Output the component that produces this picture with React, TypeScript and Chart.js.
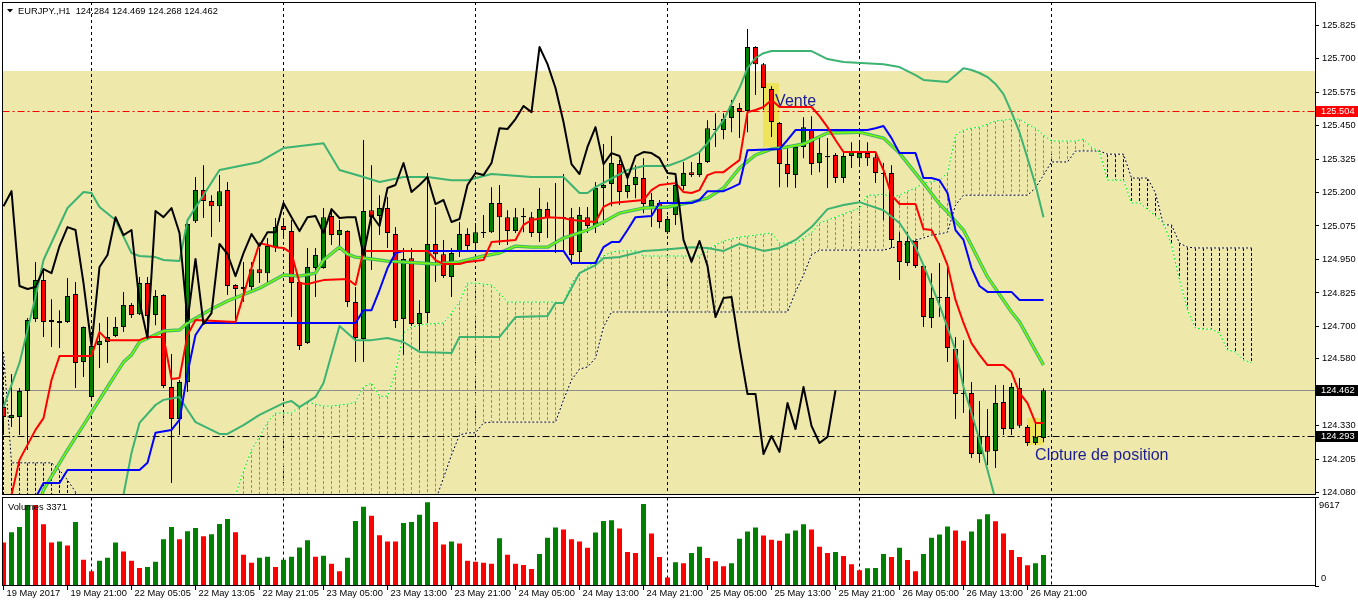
import React, { useEffect, useRef } from 'react';
import { Chart, registerables } from 'chart.js';

Chart.register(...registerables);

// ---------------- data ----------------
const SYMBOL = 'EURJPY.,H1';
const FIRST_BAR = -11; // bar index of the first candle (0 = 22 May 00:00)

const OPEN = [
  124.399, 124.358, 124.362, 124.459, 124.728, 124.873, 124.724, 124.713, 124.717, 124.821, 124.567,
  124.437, 124.631, 124.642, 124.664, 124.698, 124.780, 124.746, 124.862, 124.743, 124.817,
  124.474, 124.355, 124.493, 125.093, 125.209, 125.168, 125.149, 125.209, 124.855, 124.840,
  124.847, 124.914, 124.899, 124.996, 125.075, 125.056, 124.866, 124.638, 124.918, 124.918,
  125.112, 125.041, 125.056, 124.791, 124.653, 125.134, 125.112, 125.142, 125.045, 124.728,
  124.955, 124.709, 124.750, 125.008, 124.970, 124.885, 124.978, 125.045, 125.011, 125.049,
  125.052, 125.161, 125.108, 125.056, 125.108, 125.108, 125.049, 125.138, 125.105, 125.105,
  125.108, 124.978, 125.108, 125.071, 125.217, 125.232, 125.306, 125.202, 125.228, 125.254,
  125.149, 125.161, 125.052, 125.116, 125.224, 125.276, 125.265, 125.314, 125.433, 125.433,
  125.478, 125.515, 125.504, 125.743, 125.679, 125.586, 125.459, 125.306, 125.265, 125.370,
  125.433, 125.310, 125.332, 125.340, 125.254, 125.336, 125.328, 125.347, 125.332, 125.273,
  125.273, 125.019, 124.937, 125.019, 124.926, 124.732, 124.806, 124.810, 124.616, 124.452,
  124.452, 124.224, 124.291, 124.235, 124.418, 124.317, 124.470, 124.325, 124.265, 124.284,
];
const HIGH = [
  124.433, 124.523, 124.470, 124.732, 124.941, 124.918, 124.802, 124.761, 124.881, 124.866, 124.700,
  124.661, 124.713, 124.735, 124.735, 124.829, 124.788, 124.885, 124.885, 124.836, 124.820,
  124.597, 124.500, 125.086, 125.258, 125.302, 125.190, 125.265, 125.239, 124.858, 124.941,
  124.941, 124.993, 125.030, 125.105, 125.097, 125.097, 124.869, 124.993, 124.993, 125.142,
  125.134, 125.097, 125.059, 124.847, 125.396, 125.302, 125.190, 125.183, 125.071, 124.993,
  124.993, 124.799, 125.273, 125.146, 125.023, 124.993, 125.090, 125.067, 125.086, 125.116,
  125.220, 125.228, 125.134, 125.142, 125.142, 125.127, 125.217, 125.164, 125.235, 125.269,
  125.142, 125.146, 125.146, 125.239, 125.381, 125.411, 125.321, 125.273, 125.302, 125.328,
  125.198, 125.172, 125.112, 125.258, 125.314, 125.314, 125.355, 125.470, 125.496, 125.496,
  125.545, 125.534, 125.810, 125.746, 125.683, 125.597, 125.463, 125.377, 125.377, 125.481,
  125.485, 125.403, 125.403, 125.347, 125.351, 125.388, 125.388, 125.388, 125.347, 125.310,
  125.302, 125.052, 125.052, 125.022, 124.929, 124.899, 124.937, 124.937, 124.661, 124.649,
  124.493, 124.422, 124.392, 124.482, 124.482, 124.489, 124.508, 124.332, 124.340, 124.469,
];
const LOW = [
  124.306, 124.325, 124.295, 124.239, 124.717, 124.661, 124.623, 124.620, 124.713, 124.470, 124.511,
  124.426, 124.545, 124.564, 124.661, 124.679, 124.732, 124.743, 124.668, 124.705, 124.470,
  124.116, 124.295, 124.455, 125.086, 125.105, 125.034, 125.090, 124.817, 124.724, 124.791,
  124.836, 124.862, 124.862, 124.978, 125.034, 124.735, 124.612, 124.635, 124.810, 124.915,
  125.004, 124.985, 124.773, 124.567, 124.567, 124.911, 125.041, 124.993, 124.694, 124.594,
  124.702, 124.612, 124.713, 124.866, 124.881, 124.810, 124.959, 124.978, 124.993, 125.030,
  125.049, 125.004, 125.004, 125.049, 125.052, 125.034, 125.015, 125.030, 124.974, 124.985,
  124.929, 124.941, 125.049, 125.049, 125.079, 125.149, 125.153, 125.179, 125.179, 125.123,
  125.071, 125.067, 125.045, 125.079, 125.209, 125.258, 125.258, 125.310, 125.370, 125.399,
  125.425, 125.403, 125.425, 125.564, 125.508, 125.407, 125.220, 125.220, 125.217, 125.328,
  125.265, 125.276, 125.217, 125.235, 125.235, 125.291, 125.299, 125.299, 125.235, 125.097,
  124.993, 124.873, 124.926, 124.918, 124.698, 124.694, 124.735, 124.567, 124.355, 124.377,
  124.209, 124.191, 124.183, 124.172, 124.295, 124.295, 124.321, 124.254, 124.258, 124.268,
];
const CLOSE = [
  124.362, 124.370, 124.459, 124.724, 124.873, 124.717, 124.717, 124.720, 124.814, 124.564, 124.698,
  124.627, 124.646, 124.661, 124.698, 124.780, 124.743, 124.862, 124.739, 124.814, 124.478,
  124.355, 124.493, 125.082, 125.209, 125.168, 125.149, 125.205, 124.851, 124.840, 124.847,
  124.914, 124.899, 125.000, 125.071, 125.060, 124.862, 124.627, 124.922, 124.967, 125.108,
  125.041, 125.060, 124.791, 124.657, 125.131, 125.108, 125.142, 125.049, 124.720, 124.952,
  124.709, 124.750, 125.008, 124.970, 124.888, 124.974, 125.045, 125.000, 125.052, 125.052,
  125.161, 125.108, 125.056, 125.108, 125.112, 125.049, 125.138, 125.105, 125.108, 125.108,
  124.967, 125.116, 125.075, 125.217, 125.228, 125.310, 125.202, 125.228, 125.258, 125.157,
  125.172, 125.090, 125.101, 125.228, 125.273, 125.265, 125.310, 125.440, 125.437, 125.474,
  125.523, 125.500, 125.743, 125.679, 125.590, 125.463, 125.306, 125.269, 125.370, 125.444,
  125.306, 125.347, 125.336, 125.254, 125.336, 125.351, 125.347, 125.328, 125.273, 125.269,
  125.023, 124.941, 125.019, 124.926, 124.735, 124.806, 124.810, 124.620, 124.448, 124.448,
  124.224, 124.291, 124.232, 124.414, 124.317, 124.474, 124.329, 124.265, 124.288, 124.462,
];
const VOLUME = [
  4736, 5846, 6401, 8806, 8790, 6697, 4736, 4847, 4403, 6956, 2849,
  1591, 2738, 3071, 4736, 3737, 2738, 1961, 2072, 2627, 5069,
  6401, 5069, 5957, 6290, 5402, 5624, 6734, 7289, 5846, 3404,
  2516, 3071, 3182, 2072, 2849, 3182, 4181, 4958, 3182, 3293,
  2405, 1591, 3071, 7067, 8621, 7622, 5513, 4847, 4840, 6845,
  6956, 7733, 9102, 6956, 4514, 4847, 4625, 2738, 2627, 2516,
  2405, 5180, 3404, 2405, 2294, 1850, 3478, 5254, 6364, 6142,
  5069, 4847, 4144, 5809, 7067, 7141, 6253, 3700, 3589, 8917,
  5698, 3145, 925, 2590, 2479, 3589, 4255, 3034, 2701, 2146,
  2479, 5143, 5920, 6364, 5476, 5032, 4921, 5698, 6031, 6697,
  6142, 4255, 3589, 3700, 3256, 2368, 1702, 1924, 1961, 3478,
  3145, 4144, 2812, 1591, 3478, 5254, 5587, 6475, 6031, 4921,
  5920, 7252, 7807, 7030, 5698, 3922, 3145, 2257, 2479, 3371,
];

// Ichimoku
const CHIKOU_SHIFT = 26; // lagging span = close plotted 26 bars back
const TENKAN: [number, number][] = [
  [-10, 124.071], [-9, 124.202], [-7, 124.314], [-6, 124.358], [-5, 124.5], [-4, 124.59], [0, 124.59],
  [1, 124.679], [2, 124.649], [6, 124.649], [7, 124.661], [9, 124.661], [10, 124.504], [11, 124.508],
  [12, 124.668], [13, 124.724], [18, 124.717], [19, 124.817], [20, 124.918], [21, 125.011], [22, 125.004],
  [23, 124.996], [24, 124.993], [25, 124.974], [26, 124.862], [27, 124.858], [28, 124.866], [29, 124.873],
  [32, 124.877], [33, 124.855], [34, 124.982], [42, 124.982], [43, 124.948], [44, 124.933], [46, 124.933],
  [47, 124.941], [49, 124.948], [50, 125.015], [53, 125.023], [54, 125.079], [55, 125.097], [57, 125.108],
  [59, 125.105], [60, 125.097], [63, 125.09], [64, 125.146], [65, 125.161], [69, 125.172], [70, 125.209],
  [71, 125.228], [73, 125.235], [74, 125.202], [75, 125.198], [76, 125.209], [77, 125.265], [78, 125.276],
  [79, 125.276], [80, 125.299], [81, 125.321], [82, 125.5], [83, 125.508], [84, 125.519], [85, 125.545],
  [86, 125.519], [90, 125.519], [91, 125.485], [92, 125.444], [93, 125.396], [94, 125.351], [98, 125.351],
  [99, 125.284], [100, 125.19], [101, 125.157], [103, 125.157], [104, 125.064], [105, 125.06], [106, 125.004],
  [107, 124.929], [108, 124.799], [109, 124.713], [110, 124.638], [111, 124.594], [112, 124.556],
  [114, 124.556], [115, 124.53], [116, 124.452], [117, 124.414], [118, 124.34], [119, 124.34],
];
const KIJUN: [number, number][] = [
  [-7, 124.06], [-6, 124.116], [-4, 124.116], [-3, 124.164], [6, 124.164], [7, 124.191], [8, 124.303],
  [10, 124.314], [11, 124.351], [12, 124.526], [13, 124.668], [14, 124.713], [33, 124.713], [34, 124.761],
  [35, 124.761], [36, 124.836], [37, 124.918], [38, 124.974], [39, 124.982], [59, 124.982], [60, 124.937],
  [63, 124.937], [64, 124.996], [65, 125.015], [66, 125.015], [67, 125.06], [68, 125.108], [70, 125.112],
  [71, 125.161], [75, 125.161], [76, 125.172], [77, 125.205], [79, 125.205], [80, 125.218], [81, 125.232],
  [82, 125.358], [86, 125.362], [87, 125.396], [88, 125.433], [97, 125.433], [98, 125.44], [99, 125.448],
  [100, 125.403], [101, 125.347], [103, 125.347], [104, 125.254], [105, 125.254], [106, 125.246],
  [107, 125.198], [108, 125.06], [109, 125.023], [110, 124.918], [111, 124.851], [112, 124.829],
  [115, 124.829], [116, 124.799], [119, 124.799],
];
const SENKOU_FIRST = -11; // cloud values, one per bar, shifted 26 bars ahead
const SENKOU_A = [
  123.9, 123.9, 123.9, 123.9, 123.9, 123.9, 123.9, 123.9, 123.9, 123.9, 123.9, 123.9, 123.9, 123.9,
  123.9, 123.9, 123.9, 123.9, 123.9, 123.9, 123.9, 123.9, 123.9, 123.9, 123.9, 123.9, 123.9, 123.9,
  123.96, 124.071, 124.16, 124.239, 124.288, 124.343, 124.377, 124.377, 124.377, 124.399, 124.418,
  124.41, 124.403, 124.403, 124.407, 124.41, 124.418, 124.474, 124.489, 124.44, 124.44, 124.53,
  124.676, 124.698, 124.705, 124.709, 124.711, 124.713, 124.75, 124.791, 124.862, 124.862, 124.858,
  124.855, 124.825, 124.791, 124.791, 124.791, 124.791, 124.791, 124.791, 124.791, 124.788, 124.862,
  124.899, 124.922, 124.944, 124.963, 124.978, 124.982, 124.982, 124.982, 124.963, 124.963, 124.963,
  124.963, 124.963, 124.963, 124.963, 124.963, 124.985, 125.004, 125.019, 125.026, 125.034, 125.037,
  125.041, 125.045, 125.049, 125.011, 125.011, 125.011, 125.03, 125.049, 125.086, 125.097, 125.108,
  125.12, 125.131, 125.142, 125.19, 125.19, 125.194, 125.183, 125.19, 125.205, 125.217, 125.235,
  125.24, 125.246, 125.273, 125.414, 125.433, 125.44, 125.444, 125.455, 125.467, 125.47, 125.474,
  125.474, 125.455, 125.44, 125.414, 125.392, 125.392, 125.392, 125.392, 125.399, 125.37, 125.351,
  125.246, 125.246, 125.246, 125.161, 125.161, 125.138, 125.112, 125.086, 125.004, 124.873, 124.761,
  124.694, 124.69, 124.69, 124.675, 124.612, 124.605, 124.575, 124.564,
];
const SENKOU_B = [
  124.605, 124.191, 124.191, 124.191, 124.191, 124.191, 124.191, 124.164, 124.127, 124.082, 124.034,
  123.95, 123.95, 123.95, 123.95, 123.95, 123.95, 123.95, 123.95, 123.95, 123.95, 123.95, 123.95,
  123.95, 123.95, 123.95, 123.95, 123.95, 123.95, 123.95, 123.95, 123.95, 123.95, 123.95, 123.95,
  123.95, 123.95, 123.95, 123.95, 123.95, 123.95, 123.95, 123.95, 123.95, 123.95, 123.95, 123.95,
  123.95, 123.95, 123.95, 123.95, 123.95, 123.95, 123.95,
  124.05, 124.135, 124.22, 124.295, 124.303, 124.303, 124.34,
  124.343, 124.343, 124.343, 124.343, 124.343, 124.343, 124.343, 124.343, 124.343,
  124.426, 124.5, 124.541, 124.549, 124.582, 124.698,
  124.754, 124.754, 124.754, 124.754, 124.754, 124.754, 124.754, 124.754, 124.754, 124.754, 124.754,
  124.754, 124.754, 124.754, 124.754, 124.754, 124.754, 124.754, 124.754, 124.754, 124.754, 124.754,
  124.754,
  124.829, 124.892, 124.967,
  124.985, 124.985, 124.985, 124.985, 124.985, 124.985, 124.985, 124.985, 124.985,
  124.993, 125.0, 125.011, 125.023, 125.03, 125.041, 125.045, 125.052, 125.153,
  125.19, 125.19, 125.19, 125.19, 125.19, 125.19, 125.19, 125.19, 125.19,
  125.217, 125.265, 125.314, 125.314, 125.314, 125.355, 125.355, 125.355, 125.355,
  125.343, 125.343, 125.343, 125.254, 125.254, 125.254, 125.198, 125.079, 125.079, 125.011, 124.996,
  124.993, 124.993, 124.993, 124.993, 124.993, 124.993, 124.993, 124.993,
];

// Bollinger bands and moving average
const BB_UPPER: [number, number][] = [
  [-11, 124.399], [-9, 124.564], [-7, 124.81], [-6, 124.948], [-3, 125.142], [-1, 125.202], [0, 125.198],
  [1, 125.146], [3, 125.097], [5, 124.974], [6, 124.963], [8, 124.959], [9, 124.948], [11, 124.944],
  [12, 125.097], [16, 125.284], [21, 125.314], [24, 125.366], [29, 125.384], [31, 125.284], [34, 125.258],
  [36, 125.239], [39, 125.258], [42, 125.258], [45, 125.246], [47, 125.246], [50, 125.269], [55, 125.258],
  [59, 125.258], [61, 125.198], [62, 125.198], [63, 125.22], [67, 125.284], [69, 125.299], [72, 125.299],
  [74, 125.321], [76, 125.351], [77, 125.384], [79, 125.47], [81, 125.59], [82, 125.664], [83, 125.702],
  [84, 125.72], [85, 125.728], [90, 125.728], [92, 125.698], [94, 125.687], [99, 125.679], [101, 125.668],
  [103, 125.638], [104, 125.62], [107, 125.612], [109, 125.664], [110, 125.657], [111, 125.646],
  [112, 125.631], [113, 125.605], [114, 125.567], [115, 125.5], [116, 125.425], [117, 125.328],
  [118, 125.228], [119, 125.108],
];
const BB_LOWER: [number, number][] = [
  [3, 123.9], [4, 124.071], [5, 124.228], [6, 124.34], [8, 124.407], [9, 124.426], [11, 124.437],
  [12, 124.388], [13, 124.343], [16, 124.299], [17, 124.299], [19, 124.332], [21, 124.37], [24, 124.414],
  [25, 124.422], [26, 124.399], [28, 124.437], [29, 124.489], [31, 124.702], [33, 124.649], [35, 124.649],
  [37, 124.657], [39, 124.642], [41, 124.605], [45, 124.601], [46, 124.661], [51, 124.661], [53, 124.735],
  [57, 124.739], [58, 124.788], [59, 124.788], [61, 124.899], [63, 124.929], [64, 124.955], [66, 124.959],
  [69, 124.982], [71, 124.985], [75, 124.996], [77, 124.993], [79, 124.982], [81, 125.008], [84, 124.982],
  [86, 124.993], [88, 125.023], [90, 125.071], [92, 125.138], [94, 125.153], [96, 125.164], [99, 125.134],
  [101, 125.086], [103, 124.996], [104, 124.929], [106, 124.78], [108, 124.612], [109, 124.474],
  [110, 124.377], [111, 124.276], [113, 124.053], [116, 123.95], [119, 123.85],
];
const MOVING_AVG: [number, number][] = [
  [-7, 123.997], [-6, 124.09], [-3, 124.239], [-1, 124.332], [2, 124.474], [4, 124.567], [5, 124.594],
  [6, 124.642], [9, 124.683], [11, 124.687], [12, 124.713], [15, 124.765], [17, 124.795], [21, 124.843],
  [24, 124.892], [26, 124.888], [28, 124.899], [29, 124.948], [31, 124.996], [32, 124.97], [33, 124.959],
  [35, 124.952], [37, 124.944], [41, 124.937], [43, 124.933], [46, 124.941], [49, 124.963], [51, 124.974],
  [53, 125.0], [55, 124.996], [57, 124.996], [59, 125.03], [62, 125.06], [64, 125.09], [66, 125.123],
  [69, 125.142], [72, 125.146], [75, 125.164], [77, 125.179], [79, 125.217], [81, 125.291], [83, 125.34],
  [85, 125.362], [87, 125.37], [89, 125.381], [92, 125.422], [96, 125.425], [99, 125.403], [101, 125.347],
  [104, 125.235], [106, 125.157], [107, 125.127], [109, 125.06], [112, 124.885], [115, 124.754],
  [116, 124.717], [119, 124.556],
];

// levels, zones and notes
const SELL_LEVEL = 125.504;
const BID_LEVEL = 124.462;
const EXIT_LEVEL = 124.293;
const ZONE_TOP = 125.653;
const HIGHLIGHTS = [
  { from: 84, to: 86, top: 125.608, bottom: 125.37 },
  { from: 117, to: 119, top: 124.358, bottom: 124.258 },
];
const NOTES = [
  { text: 'Vente', bar: 85.45, price: 125.524 },
  { text: 'Cloture de position', bar: 117.95, price: 124.2 },
];

// axes
const PRICE_MIN = 124.071;
const PRICE_MAX = 125.911;
const PRICE_TICKS = [125.825, 125.7, 125.575, 125.45, 125.325, 125.2, 125.075, 124.95, 124.825, 124.7, 124.58, 124.33, 124.205, 124.08];
const X_MIN = -11.125;
const X_MAX = 152.9375;
const VOL_MAX = 9617;
const X_LABEL_BARS = [-11, -3, 5, 13, 21, 29, 37, 45, 53, 61, 69, 77, 85, 93, 101, 109, 117];
const X_LABELS = [
  '19 May 2017', '19 May 21:00', '22 May 05:05', '22 May 13:05', '22 May 21:05', '23 May 05:00',
  '23 May 13:00', '23 May 21:00', '24 May 05:00', '24 May 13:00', '24 May 21:00', '25 May 05:00',
  '25 May 13:00', '25 May 21:00', '26 May 05:00', '26 May 13:00', '26 May 21:00',
];
const DAY_SEPARATORS = [0, 24, 48, 72, 96, 120];

// ---------------- styles ----------------
const FONT = '"Liberation Sans", Arial, sans-serif';
const AXIS_FONT = { family: FONT, size: 9.3 };
const GREEN = '#008000';
const RED = '#FF0000';
const ZONE_COLOR = '#EEE8AA';
const HIGHLIGHT_COLOR = '#EEE35C';
const SEAGREEN = '#3CB371';
const MA_COLOR = '#7CFC00';
const CLOUD_UP = '#00EE00';
const NOTE_COLOR = '#1C1C96';
const RIGHT_AXIS_W = 43;

const pts = (arr: [number, number][]) => arr.map(([x, y]) => ({ x, y }));

const lineDs = (data: any[], color: string, width: number, order: number, dash: number[] = []) => ({
  type: 'line',
  data,
  borderColor: color,
  borderWidth: width,
  borderDash: dash,
  pointRadius: 0,
  pointHoverRadius: 0,
  fill: false,
  tension: 0,
  order,
  clip: 0,
  borderJoinStyle: 'round',
});

const mainPlugin = {
  id: 'mt4Main',
  beforeDatasetsDraw(chart: any) {
    const { ctx, chartArea: a, scales } = chart;
    const px = (v: number) => scales.x.getPixelForValue(v);
    const py = (v: number) => scales.y.getPixelForValue(v);
    ctx.save();
    ctx.beginPath();
    ctx.rect(a.left, a.top, a.right - a.left, a.bottom - a.top);
    ctx.clip();
    // trading zone
    ctx.fillStyle = ZONE_COLOR;
    const zt = Math.round(py(ZONE_TOP));
    ctx.fillRect(a.left, zt, a.right - a.left, a.bottom - zt);
    // highlights
    ctx.fillStyle = HIGHLIGHT_COLOR;
    for (const h of HIGHLIGHTS) {
      const x0 = px(h.from) - 0.5;
      const y0 = Math.round(py(h.top));
      ctx.fillRect(x0, y0, px(h.to) - px(h.from), Math.round(py(h.bottom)) - y0);
    }
    ctx.lineWidth = 1;
    // day separators
    ctx.strokeStyle = '#000';
    ctx.setLineDash([3, 3]);
    for (const d of DAY_SEPARATORS) {
      const x = px(d);
      ctx.beginPath();
      ctx.moveTo(x, a.top);
      ctx.lineTo(x, a.bottom);
      ctx.stroke();
    }
    // cloud hatch
    ctx.setLineDash([3, 2]);
    SENKOU_A.forEach((av, k) => {
      const bv = SENKOU_B[k];
      const x = px(SENKOU_FIRST + k);
      const y1 = py(av);
      const y2 = py(bv);
      ctx.strokeStyle = av >= bv ? CLOUD_UP : '#000';
      ctx.beginPath();
      ctx.moveTo(x, Math.min(y1, y2));
      ctx.lineTo(x, Math.max(y1, y2));
      ctx.stroke();
    });
    // horizontal levels
    const hline = (v: number, color: string, dash: number[]) => {
      const y = Math.round(py(v)) + 0.5;
      ctx.strokeStyle = color;
      ctx.setLineDash(dash);
      ctx.beginPath();
      ctx.moveTo(a.left, y);
      ctx.lineTo(a.right, y);
      ctx.stroke();
    };
    hline(BID_LEVEL, '#8C8C8C', []);
    hline(SELL_LEVEL, RED, [7, 3, 2, 3]);
    hline(EXIT_LEVEL, '#000', [7, 3, 2, 3]);
    ctx.restore();
  },
  afterDraw(chart: any) {
    const { ctx, chartArea: a, scales } = chart;
    const px = (v: number) => scales.x.getPixelForValue(v);
    const py = (v: number) => scales.y.getPixelForValue(v);
    ctx.save();
    ctx.setLineDash([]);
    ctx.lineWidth = 1;
    ctx.strokeStyle = '#000';
    ctx.strokeRect(Math.floor(a.left) + 0.5, Math.round(a.top) + 0.5, Math.round(a.right) - Math.floor(a.left), Math.round(a.bottom) - Math.round(a.top) - 1);
    // notes
    ctx.fillStyle = NOTE_COLOR;
    ctx.font = `16px ${FONT}`;
    ctx.textAlign = 'left';
    ctx.textBaseline = 'alphabetic';
    for (const n of NOTES) ctx.fillText(n.text, px(n.bar), py(n.price));
    // header
    ctx.fillStyle = '#000';
    ctx.beginPath();
    ctx.moveTo(7, 9);
    ctx.lineTo(13, 9);
    ctx.lineTo(10, 12.5);
    ctx.closePath();
    ctx.fill();
    ctx.font = `9.3px ${FONT}`;
    ctx.textBaseline = 'middle';
    const last = OPEN.length - 1;
    ctx.fillText(`${SYMBOL}  ${OPEN[last].toFixed(3)} ${HIGH[last].toFixed(3)} ${LOW[last].toFixed(3)} ${CLOSE[last].toFixed(3)}`, 18, 11);
    // price boxes on the axis
    const box = (v: number, bg: string) => {
      const y = Math.round(py(v));
      ctx.fillStyle = bg;
      ctx.fillRect(a.right + 1, y - 5, 60, 11);
      ctx.fillStyle = '#fff';
      ctx.fillText(v.toFixed(3), a.right + 6, y + 0.5);
    };
    box(SELL_LEVEL, RED);
    box(BID_LEVEL, '#000');
    box(EXIT_LEVEL, '#000');
    ctx.restore();
  },
};

const volPlugin = {
  id: 'mt4Vol',
  beforeDatasetsDraw(chart: any) {
    const { ctx, chartArea: a, scales } = chart;
    ctx.save();
    ctx.beginPath();
    ctx.rect(a.left, a.top, a.right - a.left, a.bottom - a.top);
    ctx.clip();
    ctx.strokeStyle = '#000';
    ctx.lineWidth = 1;
    ctx.setLineDash([3, 3]);
    for (const d of DAY_SEPARATORS) {
      const x = scales.x.getPixelForValue(d);
      ctx.beginPath();
      ctx.moveTo(x, a.top);
      ctx.lineTo(x, a.bottom);
      ctx.stroke();
    }
    ctx.restore();
  },
  afterDraw(chart: any) {
    const { ctx, chartArea: a, scales } = chart;
    ctx.save();
    ctx.setLineDash([]);
    ctx.lineWidth = 1;
    ctx.strokeStyle = '#000';
    ctx.strokeRect(Math.floor(a.left) + 0.5, Math.floor(a.top) + 0.5, Math.round(a.right) - Math.floor(a.left), Math.round(a.bottom) - Math.floor(a.top) - 1);
    ctx.fillStyle = '#000';
    ctx.font = `9.3px ${FONT}`;
    ctx.textAlign = 'left';
    ctx.textBaseline = 'middle';
    ctx.fillText(`Volumes ${VOLUME[VOLUME.length - 1]}`, 8, a.top + 9.5);
    ctx.fillText(String(VOL_MAX), a.right + 4, scales.y.getPixelForValue(VOL_MAX) + 7.5);
    ctx.fillText('0', a.right + 6, scales.y.getPixelForValue(0) - 7.5);
    ctx.restore();
  },
};

function buildMain(canvas: HTMLCanvasElement) {
  const bars = OPEN.map((o, k) => FIRST_BAR + k);
  const bodies = OPEN.map((o, k) => ({ x: bars[k], y: [o, CLOSE[k]] }));
  const wicks = OPEN.map((o, k) => ({ x: bars[k], y: [LOW[k], HIGH[k]] }));
  const bodyColors = OPEN.map((o, k) => (CLOSE[k] >= o ? GREEN : RED));
  const chikou = CLOSE.slice(CHIKOU_SHIFT).map((c, k) => ({ x: FIRST_BAR + k, y: c }));
  const spanA = SENKOU_A.map((v, k) => ({ x: SENKOU_FIRST + k, y: v }));
  const spanB = SENKOU_B.map((v, k) => ({ x: SENKOU_FIRST + k, y: v }));

  return new Chart(canvas, {
    type: 'bar',
    data: {
      datasets: [
        lineDs(chikou, '#000', 2, 1),
        lineDs(pts(TENKAN), RED, 2, 2),
        lineDs(pts(KIJUN), '#0000FF', 2, 3),
        lineDs(pts(MOVING_AVG), MA_COLOR, 1.4, 4),
        lineDs(pts(MOVING_AVG), SEAGREEN, 3.4, 5),
        lineDs(pts(BB_UPPER), SEAGREEN, 2, 6),
        lineDs(pts(BB_LOWER), SEAGREEN, 2, 7),
        {
          type: 'bar',
          data: bodies,
          backgroundColor: bodyColors,
          borderColor: '#000',
          borderWidth: 1,
          borderSkipped: false,
          grouped: false,
          maxBarThickness: 5,
          minBarLength: 1,
          order: 20,
          clip: 0,
        },
        {
          type: 'bar',
          data: wicks,
          backgroundColor: '#000',
          borderWidth: 0,
          grouped: false,
          maxBarThickness: 1,
          order: 21,
          clip: 0,
        },
        lineDs(spanA, CLOUD_UP, 1, 30, [2, 2]),
        lineDs(spanA, '#FFFFFF', 1, 31),
        lineDs(spanB, '#000', 1, 32, [2, 2]),
        lineDs(spanB, '#FFFFFF', 1, 33),
      ] as any,
    },
    options: {
      animation: false,
      responsive: false,
      maintainAspectRatio: false,
      devicePixelRatio: 1,
      events: [],
      layout: { padding: { left: 2.5, top: 2, right: 0, bottom: 2 } },
      plugins: { legend: { display: false }, tooltip: { enabled: false } },
      scales: {
        x: { type: 'linear', min: X_MIN, max: X_MAX, offset: false, display: false },
        y: {
          type: 'linear',
          position: 'right',
          min: PRICE_MIN,
          max: PRICE_MAX,
          afterBuildTicks: (s: any) => {
            s.ticks = PRICE_TICKS.map((value) => ({ value }));
          },
          afterFit: (s: any) => {
            s.width = RIGHT_AXIS_W;
            s.paddingTop = 0;
            s.paddingBottom = 0;
          },
          ticks: {
            autoSkip: false,
            padding: 3,
            color: '#000',
            font: AXIS_FONT,
            callback: (v: any) => Number(v).toFixed(3),
          },
          grid: { drawOnChartArea: false, drawTicks: true, tickLength: 4, color: '#000' },
          border: { display: false },
        },
      },
    } as any,
    plugins: [mainPlugin],
  });
}

function buildVolume(canvas: HTMLCanvasElement) {
  const data = VOLUME.map((v, k) => ({ x: FIRST_BAR + k, y: v }));
  const colors = VOLUME.map((v, k) => (k > 0 && v > VOLUME[k - 1] ? GREEN : RED));
  return new Chart(canvas, {
    type: 'bar',
    data: {
      datasets: [
        {
          data,
          backgroundColor: colors,
          borderWidth: 0,
          grouped: false,
          maxBarThickness: 5,
          clip: 0,
        },
      ] as any,
    },
    options: {
      animation: false,
      responsive: false,
      maintainAspectRatio: false,
      devicePixelRatio: 1,
      events: [],
      layout: { padding: { left: 2.5, top: 0.5, right: 0, bottom: 0 } },
      plugins: { legend: { display: false }, tooltip: { enabled: false } },
      scales: {
        x: {
          type: 'linear',
          position: 'bottom',
          min: X_MIN,
          max: X_MAX,
          offset: false,
          afterBuildTicks: (s: any) => {
            s.ticks = X_LABEL_BARS.map((value) => ({ value }));
          },
          afterFit: (s: any) => {
            s.height = 20;
            s.paddingLeft = 0;
            s.paddingRight = 0;
          },
          ticks: {
            autoSkip: false,
            maxRotation: 0,
            minRotation: 0,
            align: 'start',
            labelOffset: 3,
            padding: -2,
            color: '#000',
            font: AXIS_FONT,
            callback: (v: any) => {
              const k = X_LABEL_BARS.indexOf(Number(v));
              return k >= 0 ? X_LABELS[k] : '';
            },
          },
          grid: { drawOnChartArea: false, drawTicks: true, tickLength: 4, color: '#000', offset: false },
          border: { display: false },
        },
        y: {
          type: 'linear',
          position: 'right',
          min: 0,
          max: VOL_MAX,
          afterBuildTicks: (s: any) => {
            s.ticks = [{ value: 0 }, { value: VOL_MAX }];
          },
          afterFit: (s: any) => {
            s.width = RIGHT_AXIS_W;
            s.paddingTop = 0;
            s.paddingBottom = 0;
          },
          ticks: { display: false },
          grid: { drawOnChartArea: false, drawTicks: true, tickLength: 4, color: '#000' },
          border: { display: false },
        },
      },
    } as any,
    plugins: [volPlugin],
  });
}

export default function App() {
  const mainRef = useRef<HTMLCanvasElement>(null);
  const volRef = useRef<HTMLCanvasElement>(null);

  useEffect(() => {
    Chart.defaults.font.family = FONT;
    Chart.defaults.color = '#000';
    const main = buildMain(mainRef.current as HTMLCanvasElement);
    const vol = buildVolume(volRef.current as HTMLCanvasElement);
    return () => {
      main.destroy();
      vol.destroy();
    };
  }, []);

  return (
    <div style={{ position: 'absolute', left: 0, top: 0, width: 1358, height: 606, background: '#fff', overflow: 'hidden' }}>
      <canvas ref={mainRef} width={1358} height={497} style={{ position: 'absolute', left: 0, top: 0, width: 1358, height: 497 }} />
      <canvas ref={volRef} width={1358} height={109} style={{ position: 'absolute', left: 0, top: 497, width: 1358, height: 109 }} />
    </div>
  );
}
